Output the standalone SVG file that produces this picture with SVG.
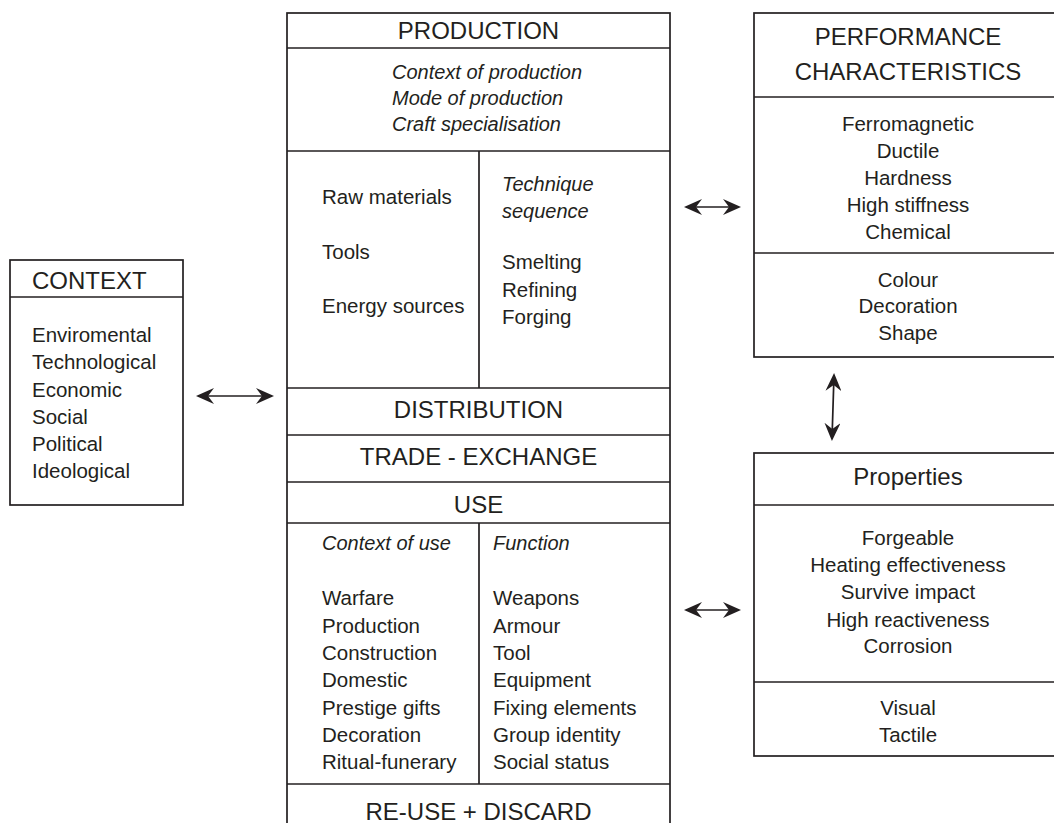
<svg xmlns="http://www.w3.org/2000/svg" width="1054" height="823" viewBox="0 0 1054 823">
<style>
.bx{fill:none;stroke:#231f20;stroke-width:1.7}
.ln{stroke:#231f20;stroke-width:1.7;fill:none}
.h{font-family:"Liberation Sans",Arial,sans-serif;font-size:24px;fill:#231f20}
.t{font-family:"Liberation Sans",Arial,sans-serif;font-size:20.5px;fill:#231f20}
.i{font-family:"Liberation Sans",Arial,sans-serif;font-size:20px;font-style:italic;fill:#231f20}
.c{text-anchor:middle}
.ar{stroke:#231f20;stroke-width:1.7;fill:none;marker-start:url(#ah);marker-end:url(#ah)}
</style>
<defs>
<marker id="ah" viewBox="0 0 18 16" refX="16" refY="8" markerWidth="18" markerHeight="16" markerUnits="userSpaceOnUse" orient="auto-start-reverse">
<path d="M0,0 L18,8 L0,16 L6,8 Z" fill="#231f20"/>
</marker>
</defs>
<rect width="1054" height="823" fill="#ffffff"/>

<g id="context">
<rect class="bx" x="10" y="260" width="173" height="245"/>
<line class="ln" x1="10" y1="297" x2="183" y2="297"/>
<text class="h" x="32" y="289">CONTEXT</text>
<text class="t" x="32" y="342">Enviromental</text>
<text class="t" x="32" y="369">Technological</text>
<text class="t" x="32" y="397">Economic</text>
<text class="t" x="32" y="424">Social</text>
<text class="t" x="32" y="451">Political</text>
<text class="t" x="32" y="478">Ideological</text>
</g>

<g id="main">
<rect class="bx" x="287" y="13" width="383" height="830"/>
<line class="ln" x1="287" y1="48" x2="670" y2="48"/>
<line class="ln" x1="287" y1="151" x2="670" y2="151"/>
<line class="ln" x1="479" y1="151" x2="479" y2="388"/>
<line class="ln" x1="287" y1="388" x2="670" y2="388"/>
<line class="ln" x1="287" y1="435" x2="670" y2="435"/>
<line class="ln" x1="287" y1="482" x2="670" y2="482"/>
<line class="ln" x1="287" y1="523" x2="670" y2="523"/>
<line class="ln" x1="479" y1="523" x2="479" y2="784"/>
<line class="ln" x1="287" y1="784" x2="670" y2="784"/>
<text class="h c" x="478.5" y="39">PRODUCTION</text>
<text class="i" x="392" y="79">Context of production</text>
<text class="i" x="392" y="105">Mode of production</text>
<text class="i" x="392" y="131">Craft specialisation</text>
<text class="t" x="322" y="204">Raw materials</text>
<text class="t" x="322" y="259">Tools</text>
<text class="t" x="322" y="313">Energy sources</text>
<text class="i" x="502" y="191">Technique</text>
<text class="i" x="502" y="218">sequence</text>
<text class="t" x="502" y="269">Smelting</text>
<text class="t" x="502" y="297">Refining</text>
<text class="t" x="502" y="324">Forging</text>
<text class="h c" x="478.5" y="418">DISTRIBUTION</text>
<text class="h c" x="478.5" y="465">TRADE - EXCHANGE</text>
<text class="h c" x="478.5" y="513">USE</text>
<text class="i" x="322" y="550">Context of use</text>
<text class="i" x="493" y="550">Function</text>
<text class="t" x="322" y="605">Warfare</text>
<text class="t" x="322" y="633">Production</text>
<text class="t" x="322" y="660">Construction</text>
<text class="t" x="322" y="687">Domestic</text>
<text class="t" x="322" y="715">Prestige gifts</text>
<text class="t" x="322" y="742">Decoration</text>
<text class="t" x="322" y="769">Ritual-funerary</text>
<text class="t" x="493" y="605">Weapons</text>
<text class="t" x="493" y="633">Armour</text>
<text class="t" x="493" y="660">Tool</text>
<text class="t" x="493" y="687">Equipment</text>
<text class="t" x="493" y="715">Fixing elements</text>
<text class="t" x="493" y="742">Group identity</text>
<text class="t" x="493" y="769">Social status</text>
<text class="h c" x="478.5" y="820">RE-USE + DISCARD</text>
</g>

<g id="performance">
<rect class="bx" x="754" y="13" width="308" height="344"/>
<line class="ln" x1="754" y1="97" x2="1062" y2="97"/>
<line class="ln" x1="754" y1="253" x2="1062" y2="253"/>
<text class="h c" x="908" y="45">PERFORMANCE</text>
<text class="h c" x="908" y="80">CHARACTERISTICS</text>
<text class="t c" x="908" y="131">Ferromagnetic</text>
<text class="t c" x="908" y="158">Ductile</text>
<text class="t c" x="908" y="185">Hardness</text>
<text class="t c" x="908" y="212">High stiffness</text>
<text class="t c" x="908" y="239">Chemical</text>
<text class="t c" x="908" y="287">Colour</text>
<text class="t c" x="908" y="313">Decoration</text>
<text class="t c" x="908" y="340">Shape</text>
</g>

<g id="properties">
<rect class="bx" x="754" y="453" width="308" height="303"/>
<line class="ln" x1="754" y1="505" x2="1062" y2="505"/>
<line class="ln" x1="754" y1="682" x2="1062" y2="682"/>
<text class="h c" x="908" y="485">Properties</text>
<text class="t c" x="908" y="545">Forgeable</text>
<text class="t c" x="908" y="572">Heating effectiveness</text>
<text class="t c" x="908" y="599">Survive impact</text>
<text class="t c" x="908" y="627">High reactiveness</text>
<text class="t c" x="908" y="653">Corrosion</text>
<text class="t c" x="908" y="715">Visual</text>
<text class="t c" x="908" y="742">Tactile</text>
</g>

<g id="connectors">
<line class="ar" x1="198" y1="396" x2="272" y2="396"/>
<line class="ar" x1="686" y1="207" x2="739" y2="207"/>
<line class="ar" x1="686" y1="610" x2="739" y2="610"/>
<line class="ar" x1="834" y1="375" x2="832" y2="439"/>
</g>
</svg>
